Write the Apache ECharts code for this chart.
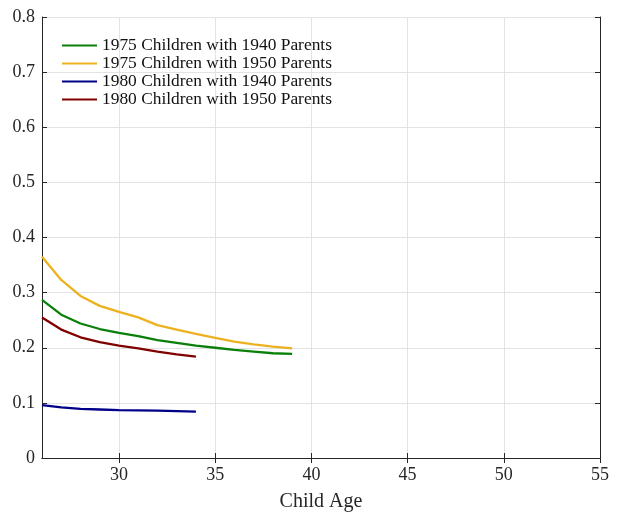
<!DOCTYPE html>
<html><head><meta charset="utf-8">
<script src="https://cdn.jsdelivr.net/npm/echarts@6/dist/echarts.min.js"></script>
<style>html,body{margin:0;padding:0;background:#fff}#c{width:620px;height:514px}</style>
</head><body><div id="c"></div>
<script>
const ages = [26,27,28,29,30,31,32,33,34,35,36,37,38,39];
const c1975p1940 = [0.287,0.260,0.244,0.234,0.227,0.221,0.214,0.209,0.204,0.200,0.196,0.193,0.190,0.189];
const c1975p1950 = [0.365,0.323,0.294,0.276,0.265,0.255,0.241,0.233,0.225,0.218,0.211,0.206,0.202,0.199];
const c1980p1940 = [0.096,0.092,0.089,0.088,0.087,0.0865,0.086,0.085,0.084];
const c1980p1950 = [0.255,0.233,0.219,0.210,0.204,0.199,0.193,0.188,0.184];
const xTicks = [30,35,40,45,50,55];
const names = ['1975 Children with 1940 Parents','1975 Children with 1950 Parents','1980 Children with 1940 Parents','1980 Children with 1950 Parents'];
const colors = ['#0a800a','#edb120','#00008b','#800000'];

const pair = (vals) => vals.map((v,i)=>[ages[i],v]);
const font = 'Liberation Serif';
const chart = echarts.init(document.getElementById('c'));
const axisLine = {show:true, lineStyle:{color:'#262626', width:1}};
chart.setOption({
  animation:false,
  color: colors,
  textStyle:{fontFamily:font},
  grid:{left:42,right:20,top:17,bottom:56, containLabel:false, outerBoundsMode:'none'},
  legend:{
    left:57, top:32, orient:'vertical', itemGap:1, itemWidth:35, itemHeight:2,
    icon:'rect',
    textStyle:{fontFamily:font,fontSize:17.4,color:'#111'},
    data:names
  },
  xAxis:[{
    type:'value', min:26, max:55,
    name:'Child Age', nameLocation:'middle', nameGap:34,
    nameTextStyle:{fontFamily:font,fontSize:20,color:'#262626'},
    axisLine, 
    axisTick:{show:true, inside:true, length:5, customValues:xTicks, lineStyle:{color:'#262626'}},
    axisLabel:{customValues:xTicks, fontFamily:font, fontSize:18, color:'#262626', margin:8},
    splitLine:{show:true, lineStyle:{color:'#e3e3e3'}}
  },{
    type:'value', min:26, max:55, position:'top',
    axisLine,
    axisTick:{show:true, inside:true, length:5, customValues:xTicks, lineStyle:{color:'#262626'}},
    axisLabel:{show:false}, splitLine:{show:false}
  }],
  yAxis:[{
    type:'value', min:0, max:0.8, interval:0.1,
    axisLine,
    axisTick:{show:true, inside:true, length:5, lineStyle:{color:'#262626'}},
    axisLabel:{fontFamily:font, fontSize:18, color:'#262626', margin:7,
      formatter:v=> v===0 ? '0' : v.toFixed(1)},
    splitLine:{show:true, lineStyle:{color:'#e3e3e3'}}
  },{
    type:'value', min:0, max:0.8, interval:0.1, position:'right',
    axisLine,
    axisTick:{show:true, inside:true, length:5, lineStyle:{color:'#262626'}},
    axisLabel:{show:false}, splitLine:{show:false}
  }],
  series:[
    {name:names[0], type:'line', data:pair(c1975p1940)},
    {name:names[1], type:'line', data:pair(c1975p1950)},
    {name:names[2], type:'line', data:pair(c1980p1940)},
    {name:names[3], type:'line', data:pair(c1980p1950)}
  ].map(s=>Object.assign(s,{showSymbol:false, symbol:'none', lineStyle:{width:2.3}}))
});
</script></body></html>
